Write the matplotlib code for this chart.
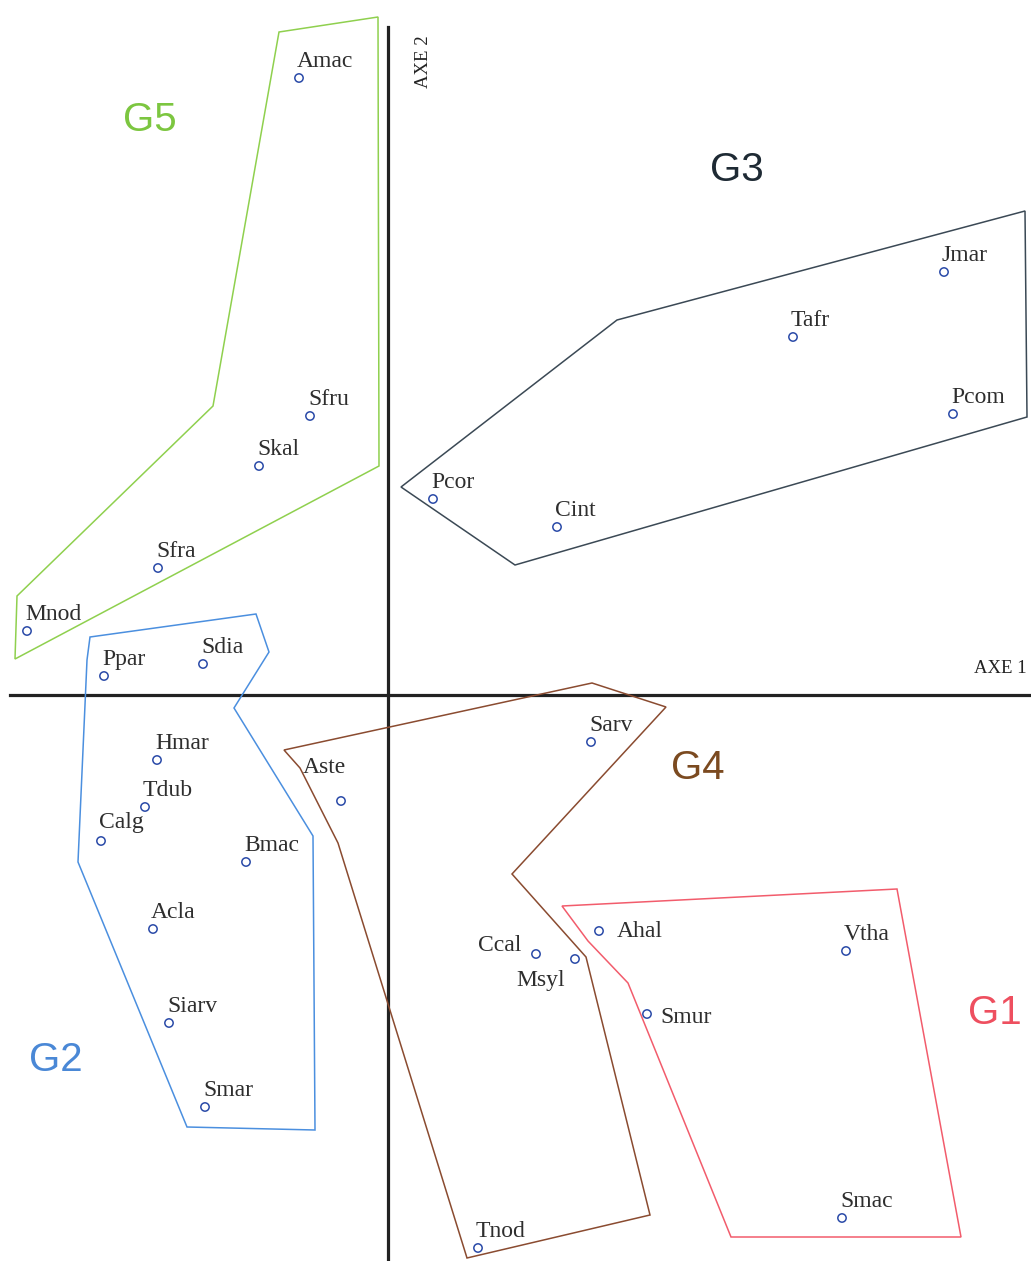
import matplotlib
matplotlib.use("Agg")
import matplotlib.pyplot as plt
from matplotlib.patches import Polygon

# species coordinates on the factorial plane (axis 1, axis 2)
species = ["Amac", "Sfru", "Skal", "Sfra", "Mnod",
           "Ppar", "Sdia", "Hmar", "Tdub", "Calg", "Bmac", "Acla", "Siarv", "Smar",
           "Jmar", "Tafr", "Pcom", "Pcor", "Cint",
           "Sarv", "Aste", "Ccal", "Msyl", "Tnod",
           "Ahal", "Vtha", "Smur", "Smac"]
axe1 = [-89, -78, -129, -230, -361,
        -284, -185, -231, -243, -287, -142, -235, -219, -183,
        556, 405, 565, 45, 169,
        203, -47, 148, 187, 90,
        211, 458, 259, 454]
axe2 = [617, 279, 229, 127, 64,
        19, 31, -65, -112, -146, -167, -234, -328, -412,
        423, 358, 281, 196, 168,
        -47, -106, -259, -264, -553,
        -236, -256, -319, -523]

# hulls of the five groups
g5_x = [-109, -10, -9, -373, -371, -175]
g5_y = [663, 678, 229, 36, 99, 289]
g2_x = [-298, -132, -119, -154, -75, -73, -201, -310, -301]
g2_y = [58, 81, 43, -13, -141, -435, -432, -167, 35]
g3_x = [13, 229, 637, 639, 127]
g3_y = [208, 375, 484, 278, 130]
g4_x = [-104, 204, 278, 124, 198, 262, 79, -50, -88]
g4_y = [-55, 12, -12, -179, -262, -520, -563, -148, -73]
g1_x = [174, 509, 573, 343, 240, 200]
g1_y = [-211, -194, -542, -542, -288, -246]

groups = ["G1", "G2", "G3", "G4", "G5"]
group_x = [607, -332, 349, 310, -238]
group_y = [-318, -365, 525, -73, 575]

hulls = {"G1": (g1_x, g1_y), "G2": (g2_x, g2_y), "G3": (g3_x, g3_y),
         "G4": (g4_x, g4_y), "G5": (g5_x, g5_y)}
hull_col = {"G1": "#f25c6c", "G2": "#4b8fdf", "G3": "#3b4955",
            "G4": "#8a4b30", "G5": "#8fd04e"}
text_col = {"G1": "#ee4f5f", "G2": "#4a88d6", "G3": "#1e2a34",
            "G4": "#7b4a20", "G5": "#7cc640"}

# label placement (pixels from the point), default is above right
offsets = {"Ccal": (-15, 3, "right"), "Msyl": (-10, -27, "right"),
           "Aste": (-38, 28, "left"), "Smur": (13, -9, "left"),
           "Ahal": (18, -6, "left"), "Calg": (-2, 13, "left")}

fig = plt.figure(figsize=(10.31, 12.61), dpi=100)
ax = fig.add_axes([0, 0, 1, 1])
ax.set_xlim(-388, 643)
ax.set_ylim(-566, 695)
ax.axis("off")

# axes of the plane
ax.plot([-378, 643], [0, 0], color="#222222", lw=2.3, zorder=2)
ax.plot([0, 0], [-566, 668], color="#222222", lw=2.3, zorder=2)
ax.text(639, 18, "AXE 1", family="Liberation Serif", fontsize=13.5,
        ha="right", va="bottom", color="#222222")
ax.text(35, 660, "AXE 2", family="Liberation Serif", fontsize=13.5,
        rotation=90, ha="center", va="top", color="#222222")

for g in groups:
    xs, ys = hulls[g]
    ax.add_patch(Polygon(list(zip(xs, ys)), closed=True, fill=False,
                         edgecolor=hull_col[g], lw=1.1, zorder=3))

for g, x, y in zip(groups, group_x, group_y):
    ax.text(x, y, g, family="Liberation Sans", fontsize=29,
            ha="center", va="center", color=text_col[g])

ax.scatter(axe1, axe2, s=36, facecolors="none", edgecolors="#2a4aa8",
           linewidths=1.1, zorder=4)

for name, x, y in zip(species, axe1, axe2):
    dx, dy, ha = offsets.get(name, (-2, 11, "left"))
    ax.annotate(name, (x, y), xytext=(dx, dy), textcoords="offset pixels",
                ha=ha, va="baseline", family="Liberation Serif",
                fontsize=17, color="#2e2e2e", zorder=5)

fig.savefig("out.png", dpi=100)
